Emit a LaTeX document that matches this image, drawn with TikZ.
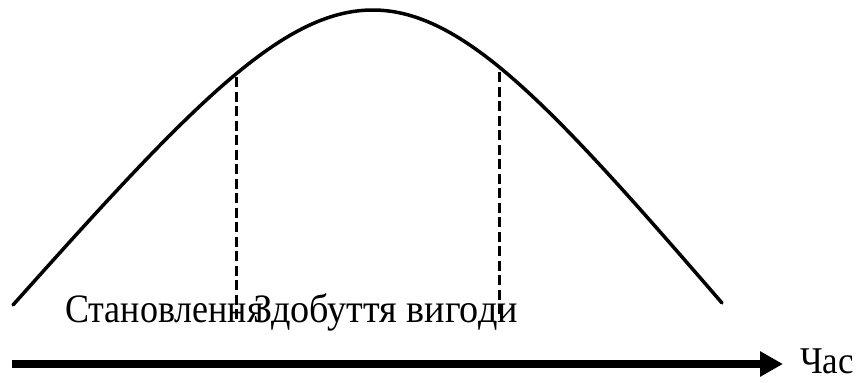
\documentclass[tikz,border=0pt]{standalone}
\usepackage{fontspec}
\setmainfont{Liberation Serif}
\usetikzlibrary{arrows.meta}
\begin{document}
\begin{tikzpicture}[x=1pt,y=-1pt,
  curveline/.style={line width=3.5pt, line cap=round},
  guide/.style={line width=3pt, dash pattern=on 10pt off 4.5pt},
  axis/.style={line width=8pt, -{Triangle[length=23pt,width=24pt]}},
  lbl/.style={inner sep=0pt, anchor=base west, font=\fontsize{36}{40}\selectfont}]
\useasboundingbox (0,0) rectangle (863,383);
\coordinate (cL) at (13,305);
\coordinate (cR) at (722,303);
\draw[curveline] (cL) .. controls (364,-88) and (384,-88) .. (cR);
\coordinate (d1t) at (236,77);
\coordinate (d1b) at (236,320);
\coordinate (d2t) at (499,72);
\coordinate (d2b) at (499,318);
\draw[guide] (d1t) -- (d1b);
\draw[guide] (d2t) -- (d2b);
\node[lbl] (st) at (65,322) {\scalebox{1}[1.12]{Становлення}};
\node[lbl] (zd) at (253,322) {\scalebox{1.06}[1.12]{Здобуття вигоди}};
\coordinate (ta) at (12,364);
\coordinate (tb) at (783,364);
\draw[axis] (ta) -- (tb);
\node[lbl] (time) at (800,373.5) {\scalebox{0.97}[1.05]{Час}};
\end{tikzpicture}
\end{document}
